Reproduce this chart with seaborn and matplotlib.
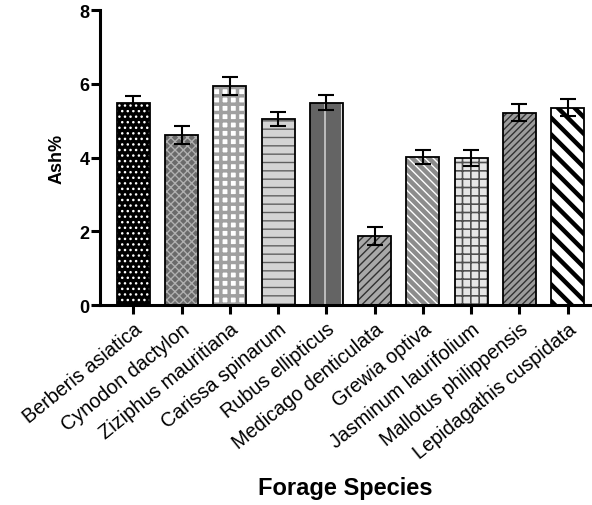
import matplotlib
matplotlib.use("Agg")
import matplotlib.pyplot as plt
import matplotlib.patches as mpatches
import seaborn as sns
import pandas as pd

sns.set_style("ticks")
plt.rcParams["font.family"] = ["Liberation Sans", "DejaVu Sans"]
plt.rcParams["text.color"] = "black"
plt.rcParams["axes.labelcolor"] = "black"
plt.rcParams["xtick.color"] = "black"
plt.rcParams["ytick.color"] = "black"
plt.rcParams["axes.edgecolor"] = "black"

species = ["Berberis asiatica", "Cynodon dactylon", "Ziziphus mauritiana",
           "Carissa spinarum", "Rubus ellipticus", "Medicago denticulata",
           "Grewia optiva", "Jasminum laurifolium", "Mallotus philippensis",
           "Lepidagathis cuspidata"]
ash = [5.49, 4.62, 5.95, 5.06, 5.49, 1.88, 4.03, 3.99, 5.22, 5.35]
sem = [0.18, 0.24, 0.25, 0.19, 0.21, 0.24, 0.19, 0.23, 0.24, 0.23]

# face colour, hatch, hatch colour, hatch linewidth
styles = [
    ("#000000", "...", "white", 1.0),
    ("#6a6a6a", "xxxx", "#b0b0b0", 1.0),
    ("#ffffff", "++", "#a0a0a0", 2.5),
    ("#d4d4d4", "--", "#606060", 1.0),
    ("#646464", "|", "#e0e0e0", 1.0),
    ("#a8a8a8", "////", "#303030", 1.0),
    ("#8c8c8c", "\\\\\\\\", "white", 1.0),
    ("#e6e6e6", "++", "#505050", 1.2),
    ("#9c9c9c", "/////", "#303030", 1.0),
    ("#ffffff", "\\\\", "black", 3.2),
]

df = pd.DataFrame({"species": species, "ash": ash})

fig = plt.figure(figsize=(5.92, 5.06), dpi=100)
ax = fig.add_axes([0.169, 0.395, 0.829, 0.583])

sns.barplot(data=df, x="species", y="ash", width=0.68, color="white",
            errorbar=None, ax=ax)

for p, (fc, hatch, hc, hlw) in zip(ax.patches, styles):
    p.set_facecolor(fc)
    p.set_hatch(hatch)
    p.set_edgecolor(hc)
    p.set_linewidth(0)
    if hasattr(p, "set_hatch_linewidth"):
        p.set_hatch_linewidth(hlw)
    # outline on top
    ax.add_patch(mpatches.Rectangle(p.get_xy(), p.get_width(), p.get_height(),
                                    fill=False, edgecolor="black", lw=1.3,
                                    zorder=p.get_zorder() + 0.1))

ax.errorbar(range(len(species)), ash, yerr=sem, fmt="none", ecolor="black",
            elinewidth=1.5, capsize=5.5, capthick=1.5, zorder=5)

ax.set_ylim(0, 8)
ax.set_yticks([0, 2, 4, 6, 8])
ax.set_xlim(-0.69, 9.48)
sns.despine(ax=ax)
for s in ["left", "bottom"]:
    ax.spines[s].set_linewidth(2.2)

ax.tick_params(axis="both", width=2.2, length=6.5)
ax.tick_params(axis="y", labelsize=13, pad=1)
for lab in ax.get_yticklabels():
    lab.set_fontweight("bold")
ax.set_xticks(range(len(species)))
ax.set_xticklabels(species, rotation=39, ha="right", rotation_mode="anchor",
                   fontsize=14.2)

ax.set_ylabel("Ash%", fontsize=13, fontweight="bold", labelpad=10)
ax.set_xlabel("Forage Species", fontsize=17, fontweight="bold", labelpad=10)

plt.savefig("out.png", dpi=100)
